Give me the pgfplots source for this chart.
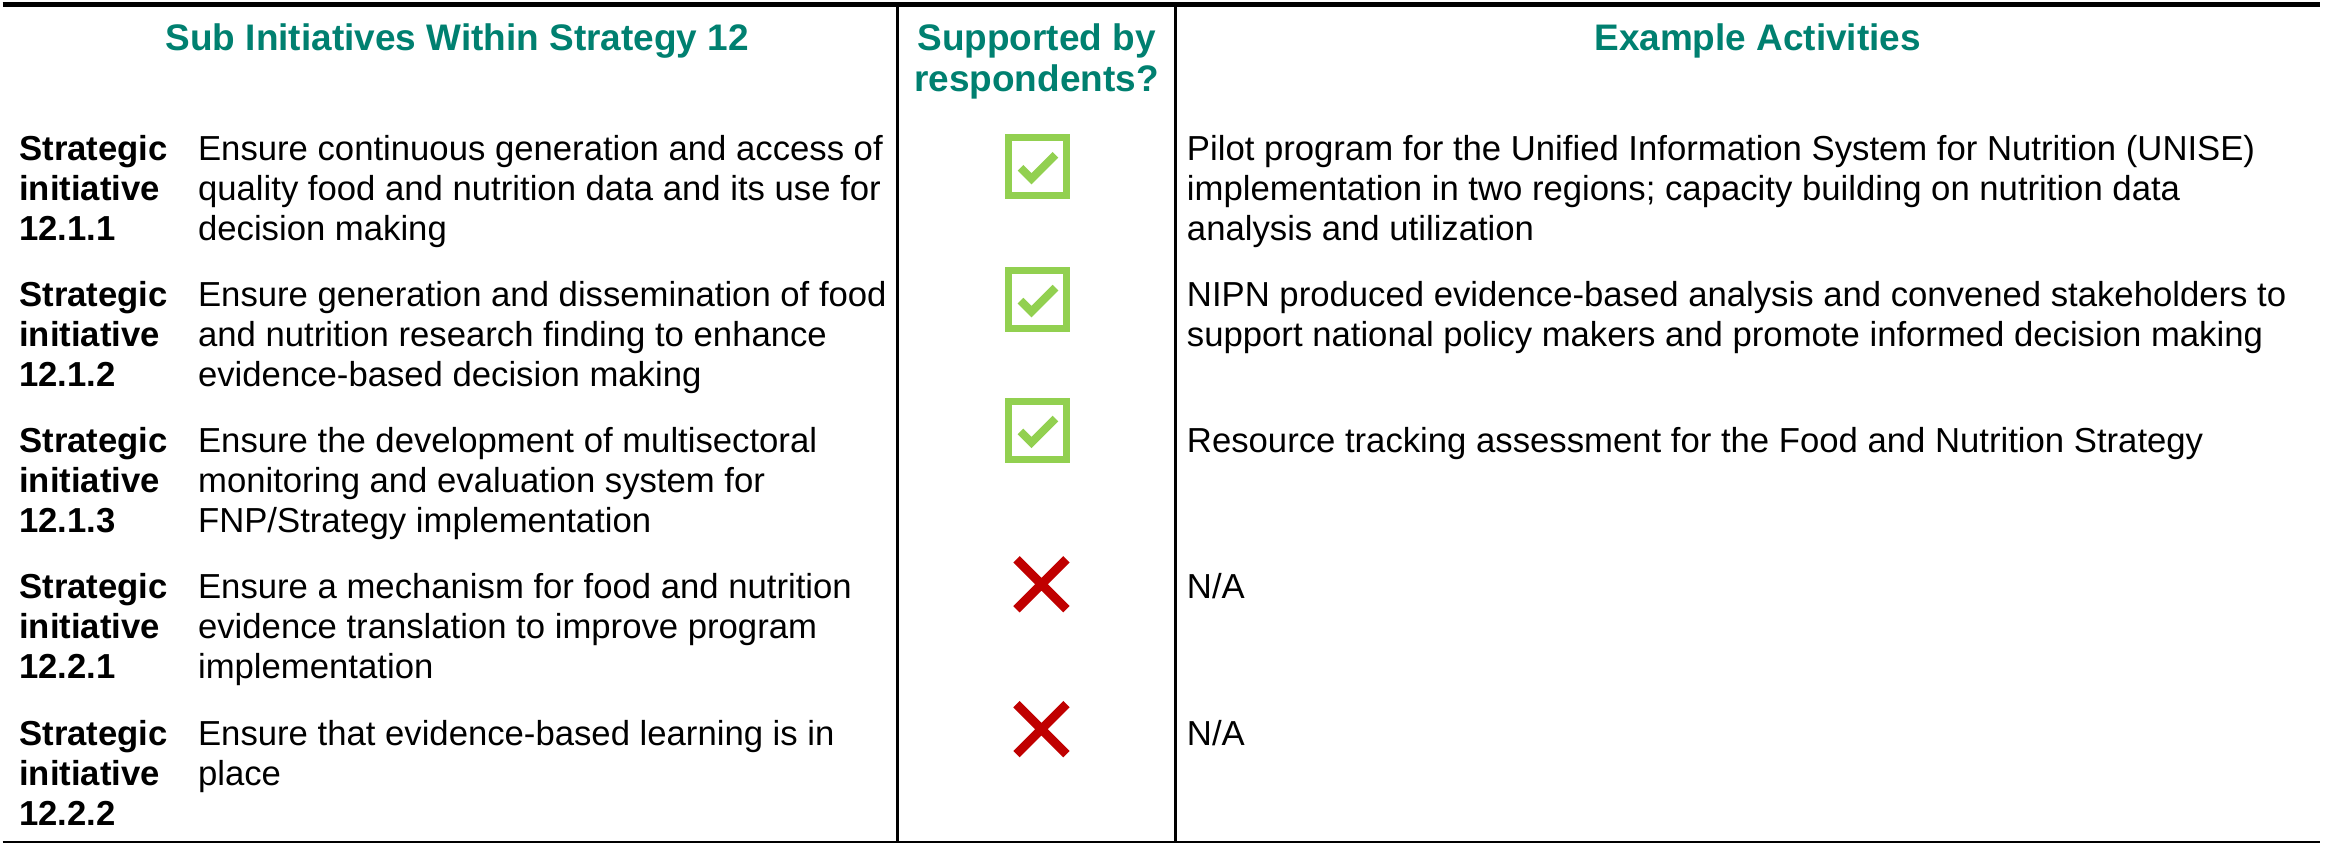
\documentclass[border=0pt]{standalone}
\usepackage{pgfplots}
\pgfplotsset{compat=1.18}
\usepackage{fontspec}
\setmainfont{Liberation Sans}
\definecolor{hteal}{RGB}{0,128,112}
\definecolor{chkgreen}{RGB}{146,208,80}
\definecolor{xred}{RGB}{192,0,0}
\pgfdeclareplotmark{chkbox}{%
  \pgfsetlinewidth{2.1bp}\pgfsetstrokecolor{chkgreen}\pgfsetmiterjoin
  \pgfpathrectangle{\pgfpoint{-8.7bp}{-8.7bp}}{\pgfpoint{17.4bp}{17.4bp}}\pgfusepath{stroke}%
  \pgfsetlinewidth{2.4bp}\pgfsetbuttcap
  \pgfpathmoveto{\pgfpoint{-5.1bp}{-0.3bp}}\pgfpathlineto{\pgfpoint{-1.8bp}{-3.6bp}}\pgfpathlineto{\pgfpoint{5.4bp}{3.6bp}}\pgfusepath{stroke}}
\pgfdeclareplotmark{redx}{%
  \pgfsetlinewidth{2.7bp}\pgfsetstrokecolor{xred}\pgfsetbuttcap
  \pgfpathmoveto{\pgfpoint{-7.5bp}{-7.5bp}}\pgfpathlineto{\pgfpoint{7.5bp}{7.5bp}}%
  \pgfpathmoveto{\pgfpoint{-7.5bp}{7.5bp}}\pgfpathlineto{\pgfpoint{7.5bp}{-7.5bp}}\pgfusepath{stroke}}
\newcommand{\tl}[3]{\node[anchor=base west,inner sep=0pt] at (axis cs:#1,#2) {#3};}
\newcommand{\tb}[3]{\node[anchor=base west,inner sep=0pt,font=\bfseries] at (axis cs:#1,#2) {#3};}
\newcommand{\thd}[3]{\node[anchor=base,inner sep=0pt,font=\fontsize{11.1bp}{13bp}\selectfont\bfseries,text=hteal] at (axis cs:#1,#2) {#3};}
\begin{document}
\fontsize{10.42bp}{12bp}\selectfont
\begin{tikzpicture}
\begin{axis}[
  width=699.3bp, height=253.2bp, scale only axis,
  xmin=0, xmax=2331, ymin=-844, ymax=0,
  hide axis, clip=false]
\addplot[draw=none] coordinates {(0,0) (2331,-844)};
% table rules
\draw[line width=1.6bp] (axis cs:0,-4.5) -- (axis cs:2320,-4.5);
\draw[line width=0.6bp] (axis cs:0,-842.5) -- (axis cs:2320,-842.5);
\draw[line width=0.7bp] (axis cs:896,-4.5) -- (axis cs:896,-842.5);
\draw[line width=0.7bp] (axis cs:1174,-4.5) -- (axis cs:1174,-842.5);
% headers
\thd{455}{-51}{Sub Initiatives Within Strategy 12}
\thd{1035}{-51}{Supported by}
\thd{1035}{-92}{respondents?}
\thd{1757}{-51}{Example Activities}
% row 1
\tb{16}{-161}{Strategic}\tb{16}{-201}{initiative}\tb{16}{-241}{12.1.1}
\tl{195}{-161}{Ensure continuous generation and access of}
\tl{195}{-201}{quality food and nutrition data and its use for}
\tl{195}{-241}{decision making}
\tl{1185}{-161}{Pilot program for the Unified Information System for Nutrition (UNISE)}
\tl{1185}{-201}{implementation in two regions; capacity building on nutrition data}
\tl{1185}{-241}{analysis and utilization}
% row 2
\tb{16}{-307}{Strategic}\tb{16}{-347}{initiative}\tb{16}{-387}{12.1.2}
\tl{195}{-307}{Ensure generation and dissemination of food}
\tl{195}{-347}{and nutrition research finding to enhance}
\tl{195}{-387}{evidence-based decision making}
\tl{1185}{-307}{NIPN produced evidence-based analysis and convened stakeholders to}
\tl{1185}{-347}{support national policy makers and promote informed decision making}
% row 3
\tb{16}{-453}{Strategic}\tb{16}{-493}{initiative}\tb{16}{-533}{12.1.3}
\tl{195}{-453}{Ensure the development of multisectoral}
\tl{195}{-493}{monitoring and evaluation system for}
\tl{195}{-533}{FNP/Strategy implementation}
\tl{1185}{-453}{Resource tracking assessment for the Food and Nutrition Strategy}
% row 4
\tb{16}{-599}{Strategic}\tb{16}{-639}{initiative}\tb{16}{-679}{12.2.1}
\tl{195}{-599}{Ensure a mechanism for food and nutrition}
\tl{195}{-639}{evidence translation to improve program}
\tl{195}{-679}{implementation}
\tl{1185}{-599}{N/A}
% row 5
\tb{16}{-746}{Strategic}\tb{16}{-786}{initiative}\tb{16}{-826}{12.2.2}
\tl{195}{-746}{Ensure that evidence-based learning is in}
\tl{195}{-786}{place}
\tl{1185}{-746}{N/A}
% supported marks
\addplot[only marks, mark=chkbox] coordinates {(1036,-167) (1036,-300) (1036,-431)};
\addplot[only marks, mark=redx] coordinates {(1040,-585) (1040,-730)};
\end{axis}
\end{tikzpicture}
\end{document}
